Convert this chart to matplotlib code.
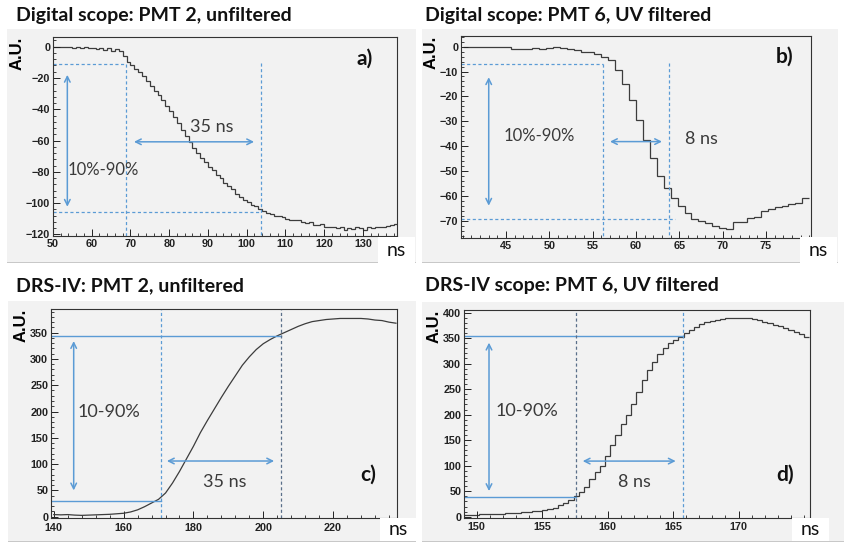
import matplotlib
matplotlib.use("Agg")
import matplotlib.pyplot as plt
from matplotlib.patches import Rectangle
from matplotlib.ticker import MultipleLocator
import numpy as np

# panel a: digital scope, PMT 2, 1 ns bins starting at 50 ns
a_start, a_bin = 50, 1.0
a_vals = [0, 0, -0.5, 0, -0.5, -1, -0.5, -1, -0.5, -1, -1, -1.5, -1, -2,
          -1, -3, -1.5, -3, -6, -10, -12, -14, -16, -19, -22, -25, -28, -31,
          -34, -38, -41, -45, -49, -53, -57, -61, -65, -68, -71, -74, -77,
          -79, -82, -84, -87, -89, -91, -94, -96, -98, -99, -101, -102, -104,
          -105, -106, -107, -108, -108.5, -109, -110, -110.5, -111, -111,
          -112, -113, -112, -114, -114, -113.5, -115, -115, -115.5, -116,
          -115, -117, -116, -116.5, -115.5, -116, -117, -115, -116, -115.5,
          -115, -115, -114.5, -114, -113.5]

# panel b: digital scope, PMT 6, 0.8 ns bins starting at 40 ns
b_start, b_bin = 40, 0.8
b_vals = [0, 0, 0, 0, 0, 0, -0.3, -1, -1, -1, -0.5, -1, -0.5, -0.3, -0.5,
          -1, -1.5, -2, -2, -3, -4, -5.5, -9.5, -15, -21.5, -29.5, -37.5,
          -45, -52, -57, -61, -64, -67, -69.5, -70, -71, -72, -73, -73.5,
          -70.5, -70.5, -69, -68.5, -66, -65.5, -64.5, -64, -63.5, -63, -61]

# panel c: DRS-IV, PMT 2 (fine binning, read every 2 ns)
c_t = [140, 142, 144, 146, 148, 150, 152, 154, 156, 158, 160, 162, 164, 166,
       168, 170, 172, 174, 176, 178, 180, 182, 184, 186, 188, 190, 192, 194,
       196, 198, 200, 202, 204, 206, 208, 210, 212, 214, 216, 218, 220, 222,
       224, 226, 228, 230, 232, 234, 236, 238]
c_vals = [4, 3.5, 4, 3, 2.5, 3, 3.5, 4, 4.5, 5.5, 6.5, 9, 13, 19, 26, 33, 45,
          64, 86, 110, 134, 160, 183, 205, 227, 248, 268, 288, 304, 318, 329,
          337, 344, 350, 356, 362, 367, 371, 373, 375, 376, 377, 377, 377,
          377, 376, 374, 373, 370, 368]

# panel d: DRS-IV, PMT 6, 0.4 ns bins starting at 149 ns
d_start, d_bin = 149.0, 0.4
d_vals = [4, 4, 4, 4.5, 5, 5, 5.5, 6, 6.5, 7, 7.5, 8.5, 9.5, 10.5, 11, 12.5,
          15, 18, 22, 27, 33, 40, 48, 58, 73, 87, 100, 118, 140, 160, 182,
          200, 220, 245, 268, 288, 304, 318, 330, 340, 347, 353, 360, 366,
          372, 377, 381, 384, 386, 388, 389, 390, 390, 390, 389, 387, 385,
          382, 379, 376, 373, 369, 366, 362, 358, 353]

titles = ["Digital scope: PMT 2, unfiltered", "Digital scope: PMT 6, UV filtered",
          "DRS-IV: PMT 2, unfiltered", "DRS-IV scope: PMT 6, UV filtered"]

W, H = 844, 542
BLUE = "#5b9bd5"
GRAY = "#f2f2f2"
CURVE = "#3c3c3c"
TXT = "#3a3a3a"

fig = plt.figure(figsize=(W / 100, H / 100), dpi=100)


def px_rect(l, t, r, b):
    return [l / W, 1 - b / H, (r - l) / W, (b - t) / H]


def backdrop(l, t, r, b):
    fig.add_artist(Rectangle((l / W, 1 - b / H), (r - l) / W, (b - t) / H,
                             transform=fig.transFigure, facecolor=GRAY,
                             edgecolor="none", zorder=-5))
    fig.add_artist(Rectangle((l / W, 1 - b / H), (r - l) / W, 1.5 / H,
                             transform=fig.transFigure, facecolor="#c8c8c8",
                             edgecolor="none", zorder=-4))


def ns_box(l, t, r, b):
    fig.add_artist(Rectangle((l / W, 1 - b / H), (r - l) / W, (b - t) / H,
                             transform=fig.transFigure, facecolor="white",
                             edgecolor="none", zorder=5))
    fig.text((l + r) / 2 / W, 1 - (t + b) / 2 / H, "ns", ha="center",
             va="center", fontsize=14, family="Lato", color="#111111", zorder=6)


def setup(ax, xlim, ylim, xticks, xmin, ymaj, ymin, xpad=2):
    ax.set_facecolor(GRAY)
    ax.set_xlim(*xlim)
    ax.set_ylim(*ylim)
    ax.set_xticks(xticks)
    ax.xaxis.set_minor_locator(MultipleLocator(xmin))
    ax.yaxis.set_major_locator(MultipleLocator(ymaj))
    ax.yaxis.set_minor_locator(MultipleLocator(ymin))
    ax.tick_params(which="both", direction="in", colors="#222222",
                   labelsize=7.8, pad=2)
    ax.tick_params(axis="x", pad=xpad)
    ax.tick_params(which="major", length=5, width=0.7)
    ax.tick_params(which="minor", length=2.5, width=0.6)
    for lab in ax.get_xticklabels() + ax.get_yticklabels():
        lab.set_fontweight("bold")
        lab.set_family("Liberation Sans")
    for sp in ax.spines.values():
        sp.set_linewidth(0.8)
        sp.set_color("#333333")
    ax.set_ylabel("A.U.", loc="top", fontsize=12, fontweight="bold",
                  family="Liberation Sans", labelpad=1)


def arrow(ax, p0, p1):
    ax.annotate("", xy=p1, xytext=p0,
                arrowprops=dict(arrowstyle="<->", color=BLUE, lw=1.1,
                                mutation_scale=10, shrinkA=0, shrinkB=0))


def dash(ax, xs, ys, color=BLUE):
    ax.plot(xs, ys, color=color, lw=0.9, ls=(0, (2.5, 2)))


def label(ax, x, y, s, size=13, bold=False):
    ax.text(x, y, s, ha="center", va="center", fontsize=size, family="Lato",
            color="#111111" if bold else TXT,
            fontweight="bold" if bold else "normal")


# backgrounds
backdrop(7, 29, 416, 263)
backdrop(422, 29, 838, 263)
backdrop(8, 301, 416, 542)
backdrop(422, 302, 844, 542)

# ---- a ----
ax = fig.add_axes(px_rect(53, 37, 397, 236))
edges = a_start + a_bin * np.arange(len(a_vals) + 1)
ax.stairs(a_vals, edges, color=CURVE, lw=0.9, baseline=None)
setup(ax, (50, 138.8), (-121, 6.2), np.arange(50, 131, 10), 2, 20, 4)
dash(ax, [68.9, 68.9], [-11, -121])
dash(ax, [103.6, 103.6], [-10.7, -121])
dash(ax, [50, 68.9], [-11.3, -11.3])
dash(ax, [50, 103.6], [-105.8, -105.8])
arrow(ax, (53.7, -18), (53.7, -102.3))
arrow(ax, (70.9, -60.8), (101.9, -60.8))
label(ax, 90.9, -51.2, "35 ns")
label(ax, 62.9, -78.9, "10%-90%", size=12)
label(ax, 130.4, -7.5, "a)", size=15, bold=True)

# ---- b ----
ax = fig.add_axes(px_rect(461, 36, 811, 238))
edges = b_start + b_bin * np.arange(len(b_vals) + 1)
ax.stairs(b_vals, edges, color=CURVE, lw=0.9, baseline=None)
setup(ax, (39.8, 80.2), (-77, 4.3), np.arange(45, 76, 5), 1, 10, 2)
dash(ax, [56.15, 56.15], [-7.1, -77])
dash(ax, [63.8, 63.8], [-6.7, -77])
dash(ax, [39.8, 56.15], [-7.1, -7.1])
dash(ax, [39.8, 64.5], [-69.2, -69.2])
arrow(ax, (43, -12.3), (43, -64))
arrow(ax, (57, -38.2), (63, -38.2))
label(ax, 48.8, -36, "10%-90%", size=12)
label(ax, 67.6, -37, "8 ns")
label(ax, 77.2, -4, "b)", size=15, bold=True)

# ---- c ----
ax = fig.add_axes(px_rect(51, 309, 397, 518))
ax.plot(c_t, c_vals, color=CURVE, lw=0.9)
setup(ax, (139.2, 238.3), (-2.5, 395), np.arange(140, 221, 20), 4, 50, 10,
      xpad=3.5)
ax.plot([139.2, 170.8], [29.8, 29.8], color=BLUE, lw=1.0)
ax.plot([139.2, 205.2], [343.7, 343.7], color=BLUE, lw=1.0)
dash(ax, [170.8, 170.8], [-2.5, 395])
dash(ax, [205.2, 205.2], [-2.5, 395], color="#5a6f8a")
arrow(ax, (145.7, 50), (145.7, 334))
arrow(ax, (172.4, 105.9), (203.1, 105.9))
label(ax, 155.7, 199.7, "10-90%")
label(ax, 189, 66.6, "35 ns")
label(ax, 230, 80.5, "c)", size=15, bold=True)

# ---- d ----
ax = fig.add_axes(px_rect(464, 310, 810, 518))
edges = d_start + d_bin * np.arange(len(d_vals) + 1)
ax.stairs(d_vals, edges, color=CURVE, lw=0.9, baseline=None)
setup(ax, (149.03, 175.46), (-2.5, 405), np.arange(150, 171, 5), 1, 50, 10,
      xpad=3)
ax.plot([149.03, 157.55], [39.2, 39.2], color=BLUE, lw=1.0)
ax.plot([149.03, 165.7], [354.2, 354.2], color=BLUE, lw=1.0)
dash(ax, [157.55, 157.55], [-2.5, 405], color="#5a6f8a")
dash(ax, [165.73, 165.73], [-2.5, 405])
arrow(ax, (150.94, 50.3), (150.94, 341))
arrow(ax, (158.1, 109), (165.2, 109))
label(ax, 153.8, 207, "10-90%")
label(ax, 162.05, 68.6, "8 ns")
label(ax, 173.56, 81.7, "d)", size=15, bold=True)

# titles and "ns" boxes
for (x, y), t in zip([(16, 15), (425, 15), (16, 286), (425, 286)], titles):
    fig.text(x / W, 1 - y / H, t, ha="left", va="center", fontsize=14,
             fontweight="bold", family="Lato", color="#111111")

ns_box(378, 237, 415, 263)
ns_box(800, 237, 837, 263)
ns_box(380, 518, 417, 541)
ns_box(792, 518, 829, 541)

fig.savefig("out.png", dpi=100)
